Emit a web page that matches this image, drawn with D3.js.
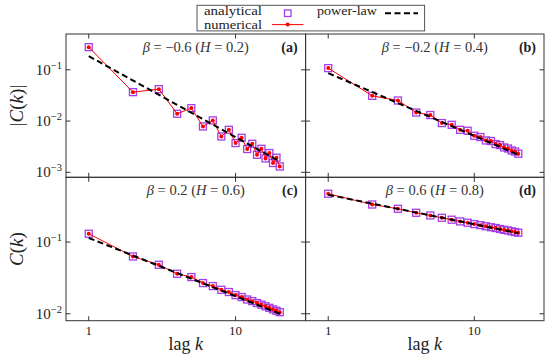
<!DOCTYPE html>
<html>
<head>
<meta charset="utf-8">
<script src="https://cdn.jsdelivr.net/npm/d3@7"></script>
<style>
  body { margin: 0; background: #fff; }
  svg text { font-family: "Liberation Serif", "DejaVu Serif", serif; }
</style>
</head>
<body>
<svg id="chart" width="550" height="357"></svg>
<script>
// lag values
const lags = [1, 2, 3, 4, 5, 6, 7, 8, 9, 10, 11, 12, 13, 14, 15, 16, 17, 18, 19, 20];

// |C(k)| (analytical and numerical sit on top of each other)
const valuesA = [0.277, 0.0367, 0.042, 0.0139, 0.0179, 0.00785, 0.0103, 0.00501, 0.00676, 0.00372,
  0.00472, 0.00285, 0.00361, 0.0022, 0.00288, 0.00187, 0.00238, 0.00152, 0.00193, 0.0013];
const valuesB = [0.108, 0.0311, 0.0252, 0.0147, 0.0131, 0.00914, 0.00847, 0.00676, 0.00647, 0.00517,
  0.00488, 0.00419, 0.00407, 0.00356, 0.0034, 0.00306, 0.00292, 0.00267, 0.00255, 0.00231];
const valuesC = [0.1306, 0.063, 0.0482, 0.0361, 0.0325, 0.0268, 0.0243, 0.0216, 0.0201, 0.0182,
  0.0171, 0.0158, 0.015, 0.0141, 0.0134, 0.0127, 0.0121, 0.0115, 0.011, 0.0105];
const valuesD = [0.472, 0.334, 0.291, 0.256, 0.235, 0.218, 0.205, 0.194, 0.186, 0.178,
  0.172, 0.166, 0.161, 0.157, 0.152, 0.148, 0.145, 0.141, 0.138, 0.135];

// power-law guide: value at k = 1 and at k = 20
const powerA = [0.185, 0.00163];
const powerB = [0.0863, 0.0022];
const powerC = [0.114, 0.0100];
const powerD = [0.457, 0.133];

const betaLabels = ["−0.6", "−0.2", "0.2", "0.6"];
const hLabels = ["0.2", "0.4", "0.6", "0.8"];
const panelTags = ["(a)", "(b)", "(c)", "(d)"];

const xTicks = [1, 10];
const yTicksTop = [1e-3, 1e-2, 1e-1];
const yTicksBottom = [1e-2, 1e-1];

const purple = "#a43ee6";
const red = "#ff0000";
const frame = "#333";

const svg = d3.select("#chart");

const colX = [[66, 305.6], [305.6, 544]];
const rowY = [[177.3, 34], [320.7, 177.3]];

const xLeft = d3.scaleLog().domain([0.7, 30]).range(colX[0]);
const xRight = d3.scaleLog().domain([0.7, 30]).range(colX[1]);
const yTop = d3.scaleLog().domain([0.0008, 0.5]).range(rowY[0]);
const yBottom = d3.scaleLog().domain([0.008, 0.8]).range(rowY[1]);

const panels = [
  { values: valuesA, power: powerA, x: xLeft, y: yTop, yt: yTicksTop, labels: true },
  { values: valuesB, power: powerB, x: xRight, y: yTop, yt: yTicksTop, labels: false },
  { values: valuesC, power: powerC, x: xLeft, y: yBottom, yt: yTicksBottom, labels: true },
  { values: valuesD, power: powerD, x: xRight, y: yBottom, yt: yTicksBottom, labels: false },
];

function expLabel(sel, v) {
  const e = Math.round(Math.log10(v));
  sel.text(null);
  sel.append("tspan").text("10");
  sel.append("tspan").attr("dy", -6).attr("font-size", 10.5).text("−" + Math.abs(e));
}

panels.forEach((p, i) => {
  const g = svg.append("g");
  const [x0, x1] = p.x.range();
  const [y1, y0] = p.y.range();

  // ticks, mirrored on all four sides
  const tl = 4.5;
  p.yt.forEach(v => {
    const yy = p.y(v);
    g.append("line").attr("x1", x0).attr("x2", x0 + tl).attr("y1", yy).attr("y2", yy).attr("stroke", frame);
    g.append("line").attr("x1", x1).attr("x2", x1 - tl).attr("y1", yy).attr("y2", yy).attr("stroke", frame);
  });
  xTicks.forEach(v => {
    const xx = p.x(v);
    g.append("line").attr("x1", xx).attr("x2", xx).attr("y1", y0).attr("y2", y0 + tl).attr("stroke", frame);
    g.append("line").attr("x1", xx).attr("x2", xx).attr("y1", y1).attr("y2", y1 - tl).attr("stroke", frame);
  });

  if (p.labels) {
    p.yt.forEach(v => {
      g.append("text").attr("x", x0 - 4).attr("y", p.y(v) + 5)
        .attr("text-anchor", "end").attr("font-size", 15).attr("fill", "#222")
        .call(expLabel, v);
    });
  }

  // analytical squares
  const s = 7;
  g.selectAll("rect.an").data(p.values).join("rect").attr("class", "an")
    .attr("x", (d, j) => p.x(lags[j]) - s / 2)
    .attr("y", d => p.y(d) - s / 2)
    .attr("width", s).attr("height", s)
    .attr("fill", "none").attr("stroke", purple).attr("stroke-width", 1.3);

  // numerical line + dots
  const line = d3.line().x((d, j) => p.x(lags[j])).y(d => p.y(d));
  g.append("path").datum(p.values).attr("d", line)
    .attr("fill", "none").attr("stroke", red).attr("stroke-width", 1);
  g.selectAll("circle.num").data(p.values).join("circle").attr("class", "num")
    .attr("cx", (d, j) => p.x(lags[j])).attr("cy", d => p.y(d))
    .attr("r", 2).attr("fill", red);

  // power-law guide
  g.append("line")
    .attr("x1", p.x(lags[0])).attr("y1", p.y(p.power[0]))
    .attr("x2", p.x(lags[lags.length - 1])).attr("y2", p.y(p.power[1]))
    .attr("stroke", "#000").attr("stroke-width", 2).attr("stroke-dasharray", "6,3.5");

  // frame
  g.append("rect").attr("x", x0).attr("y", y0).attr("width", x1 - x0).attr("height", y1 - y0)
    .attr("fill", "none").attr("stroke", frame).attr("stroke-width", 1);

  // annotations
  const ann = g.append("text").attr("x", (x0 + x1) / 2 + 10).attr("y", y0 + 18)
    .attr("text-anchor", "middle").attr("font-size", 14.5).attr("fill", "#333");
  ann.append("tspan").attr("font-style", "italic").text("β");
  ann.append("tspan").text(" = " + betaLabels[i] + " (");
  ann.append("tspan").attr("font-style", "italic").text("H");
  ann.append("tspan").text(" = " + hLabels[i] + ")");
  g.append("text").attr("x", x1 - 8).attr("y", y0 + 18).attr("text-anchor", "end")
    .attr("font-size", 14).attr("font-weight", "bold").attr("fill", "#222").text(panelTags[i]);

  // x tick labels on bottom row
  if (i >= 2) {
    xTicks.forEach(v => {
      g.append("text").attr("x", p.x(v)).attr("y", y1 + 14).attr("text-anchor", "middle")
        .attr("font-size", 13).attr("fill", "#222").text(v);
    });
    const xl = g.append("text").attr("x", (x0 + x1) / 2).attr("y", y1 + 29)
      .attr("text-anchor", "middle").attr("font-size", 18).attr("fill", "#222");
    xl.append("tspan").text("lag ");
    xl.append("tspan").attr("font-style", "italic").text("k");
  }
});

// y axis titles
function yTitle(cy, abs) {
  const t = svg.append("text").attr("transform", `translate(23,${cy}) rotate(-90)`)
    .attr("text-anchor", "middle").attr("font-size", 19).attr("fill", "#222");
  if (abs) t.append("tspan").text("|");
  t.append("tspan").attr("font-style", "italic").text("C");
  t.append("tspan").text("(");
  t.append("tspan").attr("font-style", "italic").text("k");
  t.append("tspan").text(")");
  if (abs) t.append("tspan").text("|");
}
yTitle(105.5, true);
yTitle(249, false);

// legend
const lg = svg.append("g");
lg.append("rect").attr("x", 197).attr("y", 5.3).attr("width", 227.6).attr("height", 25.6)
  .attr("fill", "#fff").attr("stroke", "#555").attr("stroke-width", 1);
const legendText = (x, y, w, s) => lg.append("text").attr("x", x).attr("y", y)
  .attr("font-size", 12).attr("fill", "#222")
  .attr("textLength", w).attr("lengthAdjust", "spacingAndGlyphs").text(s);
legendText(204, 15.4, 58, "analytical");
legendText(204, 28.6, 58, "numerical");
legendText(317, 15.4, 60, "power-law");
lg.append("rect").attr("x", 284.5).attr("y", 10).attr("width", 6.5).attr("height", 6.5)
  .attr("fill", "none").attr("stroke", purple).attr("stroke-width", 1.3);
lg.append("line").attr("x1", 272).attr("x2", 303.5).attr("y1", 24.6).attr("y2", 24.6)
  .attr("stroke", red).attr("stroke-width", 1);
lg.append("circle").attr("cx", 287.7).attr("cy", 24.6).attr("r", 2).attr("fill", red);
lg.append("line").attr("x1", 385).attr("x2", 418).attr("y1", 13.3).attr("y2", 13.3)
  .attr("stroke", "#000").attr("stroke-width", 2).attr("stroke-dasharray", "6,3.5");
</script>
</body>
</html>
